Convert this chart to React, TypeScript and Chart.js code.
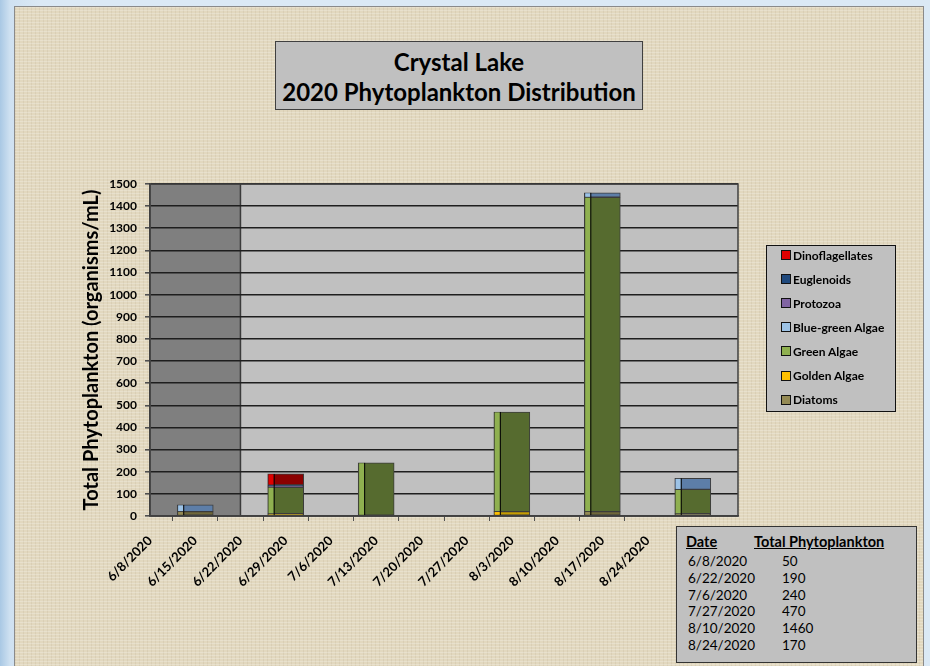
import React, { useEffect, useRef } from "react";
import { Chart, registerables } from "chart.js";

Chart.register(...registerables);

// ---------- data ----------
const weekDates = [
  "6/8/2020", "6/15/2020", "6/22/2020", "6/29/2020", "7/6/2020", "7/13/2020",
  "7/20/2020", "7/27/2020", "8/3/2020", "8/10/2020", "8/17/2020", "8/24/2020",
  "8/31/2020", "9/7/2020",
];
const labeledWeekCount = 12;
const shadedWeeks = ["6/8/2020", "6/22/2020"];

const sampleDates = ["6/8/2020", "6/22/2020", "7/6/2020", "7/27/2020", "8/10/2020", "8/24/2020"];
const barWeeks = ["6/15/2020", "6/29/2020", "7/13/2020", "8/3/2020", "8/17/2020", "8/31/2020"];

const diatoms = [20, 5, 0, 0, 20, 10];
const goldenAlgae = [0, 5, 0, 20, 0, 0];
const greenAlgae = [0, 120, 240, 450, 1420, 110];
const blueGreenAlgae = [30, 0, 0, 0, 20, 50];
const protozoa = [0, 5, 0, 0, 0, 0];
const euglenoids = [0, 5, 0, 0, 0, 0];
const dinoflagellates = [0, 50, 0, 0, 0, 0];

const yMin = 0;
const yMax = 1500;
const yStep = 100;

const seriesNames = ["Diatoms", "Golden Algae", "Green Algae", "Blue-green Algae", "Protozoa", "Euglenoids", "Dinoflagellates"];
const seriesValues = [diatoms, goldenAlgae, greenAlgae, blueGreenAlgae, protozoa, euglenoids, dinoflagellates];

// ---------- styles ----------
const faceColors = ["#6f6739", "#c69c00", "#566b2f", "#5d7ea8", "#5f497a", "#17375e", "#8b0000"];
const lightColors = ["#948a54", "#ffc000", "#8fb050", "#9dc3e6", "#8064a2", "#1f497d", "#e00000"];

const FONT = "Lato, 'Open Sans', sans-serif";

const totals = sampleDates.map((_, i) => seriesValues.reduce((s, arr) => s + arr[i], 0));

const plotPlugin = {
  id: "plotDecor",
  beforeDraw(chart: any) {
    const { ctx, chartArea } = chart;
    const xs = chart.scales.x;
    ctx.save();
    ctx.fillStyle = "#c0c0c0";
    ctx.fillRect(chartArea.left, chartArea.top, chartArea.right - chartArea.left, chartArea.bottom - chartArea.top);
    const x0 = xs.getPixelForValue(weekDates.indexOf(shadedWeeks[0]));
    const x1 = xs.getPixelForValue(weekDates.indexOf(shadedWeeks[1]));
    ctx.fillStyle = "#7f7f7f";
    ctx.fillRect(x0, chartArea.top, x1 - x0, chartArea.bottom - chartArea.top);
    ctx.strokeStyle = "#3a3a3a";
    ctx.lineWidth = 1.5;
    ctx.beginPath();
    ctx.moveTo(x1, chartArea.top);
    ctx.lineTo(x1, chartArea.bottom);
    ctx.stroke();
    ctx.restore();
  },
  afterDatasetsDraw(chart: any) {
    const { ctx, chartArea } = chart;
    ctx.save();
    chart.data.datasets.forEach((ds: any, di: number) => {
      const meta = chart.getDatasetMeta(di);
      meta.data.forEach((el: any, i: number) => {
        const pt = ds.data[i];
        if (!pt || !pt.y) return;
        const p = el.getProps(["x", "y", "base", "width"], true);
        const left = p.x - p.width / 2;
        const top = Math.min(p.y, p.base);
        const h = Math.abs(p.base - p.y);
        ctx.fillStyle = ds.stripColor;
        ctx.fillRect(left + 1, top + 0.5, 5, h - 1);
        ctx.fillStyle = "#000";
        ctx.fillRect(left + 6, top, 1, h);
      });
    });
    ctx.strokeStyle = "#404040";
    ctx.lineWidth = 1.5;
    ctx.strokeRect(chartArea.left, chartArea.top, chartArea.right - chartArea.left, chartArea.bottom - chartArea.top);
    ctx.restore();
  },
};

function ChartCanvas() {
  const ref = useRef<HTMLCanvasElement | null>(null);
  useEffect(() => {
    if (!ref.current) return;
    const datasets = seriesNames.map((name, si) => ({
      label: name,
      data: barWeeks.map((w, i) => ({ x: w, y: seriesValues[si][i] ? seriesValues[si][i] : null })),
      backgroundColor: faceColors[si],
      borderColor: "#3c3c3c",
      borderWidth: 1,
      borderSkipped: false,
      barThickness: 36,
      stripColor: lightColors[si],
    }));
    const chart = new Chart(ref.current, {
      type: "bar",
      data: { labels: weekDates, datasets: datasets as any },
      plugins: [plotPlugin],
      options: {
        animation: false,
        responsive: false,
        maintainAspectRatio: false,
        layout: { padding: { left: 80, right: 192, top: 184, bottom: 70 } },
        plugins: { legend: { display: false }, tooltip: { enabled: false }, title: { display: false } },
        scales: {
          x: {
            type: "category",
            stacked: true,
            offset: false,
            afterFit: (s: any) => { s.height = 80; },
            grid: {
              drawOnChartArea: false,
              drawTicks: true,
              tickLength: 5,
              tickColor: (c: any) => (c.index < labeledWeekCount ? "#505050" : "rgba(0,0,0,0)"),
            },
            border: { display: true, color: "#404040", width: 1.5 },
            ticks: {
              autoSkip: false,
              maxRotation: 45,
              minRotation: 45,
              padding: 12,
              color: "#000",
              font: { family: FONT, weight: "bold", size: 13 },
              callback: (v: any, i: number) => (i < labeledWeekCount ? weekDates[i] : ""),
            },
          },
          y: {
            stacked: true,
            min: yMin,
            max: yMax,
            afterFit: (s: any) => { s.width = 70; },
            grid: { color: "#1e1e1e", lineWidth: 1.6, tickLength: 5, tickColor: "#505050" },
            border: { display: true, color: "#404040", width: 1.5 },
            ticks: {
              stepSize: yStep,
              padding: 8,
              color: "#000",
              font: { family: FONT, weight: "bold", size: 12 },
              callback: (v: any) => String(v),
            },
            title: {
              display: true,
              text: "Total Phytoplankton (organisms/mL)",
              color: "#000",
              font: { family: FONT, weight: "bold", size: 20 },
              padding: { top: 0, bottom: 0 },
            },
          },
        },
      } as any,
    });
    return () => chart.destroy();
  }, []);
  return <canvas ref={ref} width={930} height={666} style={{ position: "absolute", left: 0, top: 0, display: "block" }} />;
}

export default function App() {
  const legendOrder = seriesNames.map((_, i) => i).reverse();
  return (
    <div
      style={{
        position: "absolute",
        left: 0,
        top: 0,
        width: 930,
        height: 666,
        overflow: "hidden",
        background: "linear-gradient(90deg, #a9c8e4 0px, #cfe1f1 10px, #dbe9f5 40px, #dbe9f5 100%)",
        fontFamily: FONT,
      }}
    >
      <div
        style={{
          position: "absolute",
          left: 14,
          top: 6,
          width: 910,
          height: 666,
          boxSizing: "border-box",
          border: "1px solid #8a8a8a",
          backgroundColor: "#e2d8bf",
          backgroundImage:
            "repeating-linear-gradient(0deg, rgba(255,255,255,0.22) 0px, rgba(255,255,255,0.22) 1px, transparent 1px, transparent 3px), repeating-linear-gradient(90deg, rgba(140,120,90,0.10) 0px, rgba(140,120,90,0.10) 1px, transparent 1px, transparent 4px)",
        }}
      />
      <ChartCanvas />
      {/* title */}
      <div
        style={{
          position: "absolute",
          left: 275,
          top: 41,
          width: 368,
          height: 69,
          boxSizing: "border-box",
          background: "#c0c0c0",
          border: "1.5px solid #404040",
          textAlign: "center",
          fontWeight: "bold",
          fontSize: 24,
          color: "#000",
        }}
      >
        <div style={{ position: "absolute", left: 0, right: 0, top: 5, lineHeight: "30px" }}>Crystal Lake</div>
        <div style={{ position: "absolute", left: 0, right: 0, top: 35, lineHeight: "30px" }}>2020 Phytoplankton Distribution</div>
      </div>
      {/* legend */}
      <div
        style={{
          position: "absolute",
          left: 766,
          top: 245,
          width: 130,
          height: 167,
          boxSizing: "border-box",
          background: "#c0c0c0",
          border: "1.5px solid #111",
        }}
      >
        {legendOrder.map((si, k) => (
          <div
            key={si}
            style={{ position: "absolute", left: 14, top: -2 + k * 24.1, height: 22, display: "flex", alignItems: "center", whiteSpace: "nowrap" }}
          >
            <div style={{ width: 8, height: 8, background: lightColors[si], border: "1px solid #111", marginRight: 2, flex: "none" }} />
            <span style={{ fontWeight: "bold", fontSize: 12, color: "#000" }}>{seriesNames[si]}</span>
          </div>
        ))}
      </div>
      {/* totals table */}
      <div
        style={{
          position: "absolute",
          left: 676,
          top: 526,
          width: 241,
          height: 137,
          boxSizing: "border-box",
          background: "#c0c0c0",
          border: "1.5px solid #333",
          color: "#000",
        }}
      >
        <div style={{ position: "absolute", left: 9, top: 6, fontWeight: "bold", fontSize: 14.5, textDecoration: "underline", lineHeight: "18px" }}>Date</div>
        <div style={{ position: "absolute", left: 77, top: 6, fontWeight: "bold", fontSize: 14.5, textDecoration: "underline", lineHeight: "18px", whiteSpace: "nowrap" }}>
          Total Phytoplankton
        </div>
        {sampleDates.map((d, i) => (
          <React.Fragment key={d}>
            <div style={{ position: "absolute", left: 11, top: 26 + i * 16.8, fontSize: 13.5, lineHeight: "17px" }}>{d}</div>
            <div style={{ position: "absolute", left: 105, top: 26 + i * 16.8, fontSize: 13.5, lineHeight: "17px" }}>{totals[i]}</div>
          </React.Fragment>
        ))}
      </div>
    </div>
  );
}
